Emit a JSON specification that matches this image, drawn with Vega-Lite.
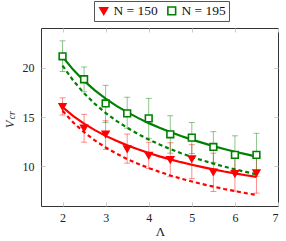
{
  "$schema": "https://vega.github.io/schema/vega-lite/v6.json",
  "width": 237,
  "height": 178,
  "autosize": {"type": "none"},
  "padding": {"left": 41, "top": 28, "right": 8, "bottom": 35},
  "config": {
    "view": {"stroke": "#333333", "strokeWidth": 1},
    "font": "Liberation Serif",
    "axis": {
      "domain": false,
      "grid": false,
      "tickColor": "#c8c8c8",
      "tickSize": -4,
      "tickWidth": 1,
      "labelFont": "Liberation Serif",
      "labelFontSize": 12,
      "labelColor": "#222222",
      "titleFont": "Liberation Serif",
      "titleColor": "#222222",
      "titleFontWeight": "normal"
    },
    "legend": {
      "labelFont": "Liberation Serif",
      "strokeColor": "#555555",
      "fillColor": "#ffffff"
    }
  },
  "datasets": {
    "pts": [
      {"x": 2, "y": 16.03, "lo": 15.2, "hi": 16.94, "series": "N = 150"},
      {"x": 2.5, "y": 13.86, "lo": 12.45, "hi": 15.27, "series": "N = 150"},
      {"x": 3, "y": 13.25, "lo": 11.72, "hi": 14.62, "series": "N = 150"},
      {"x": 3.5, "y": 11.77, "lo": 10.33, "hi": 13.28, "series": "N = 150"},
      {"x": 4, "y": 11.1, "lo": 9.8, "hi": 12.45, "series": "N = 150"},
      {"x": 4.5, "y": 10.67, "lo": 8.97, "hi": 12.4, "series": "N = 150"},
      {"x": 5, "y": 10.77, "lo": 8.77, "hi": 12.2, "series": "N = 150"},
      {"x": 5.5, "y": 9.43, "lo": 7.47, "hi": 11.34, "series": "N = 150"},
      {"x": 6, "y": 9.26, "lo": 7.5, "hi": 11.0, "series": "N = 150"},
      {"x": 6.5, "y": 9.33, "lo": 7.3, "hi": 11.36, "series": "N = 150"},
      {"x": 2, "y": 21.14, "lo": 19.6, "hi": 22.7, "series": "N = 195"},
      {"x": 2.5, "y": 18.82, "lo": 17.55, "hi": 20.06, "series": "N = 195"},
      {"x": 3, "y": 16.37, "lo": 14.45, "hi": 18.2, "series": "N = 195"},
      {"x": 3.5, "y": 15.37, "lo": 13.86, "hi": 17.0, "series": "N = 195"},
      {"x": 4, "y": 14.86, "lo": 12.85, "hi": 16.88, "series": "N = 195"},
      {"x": 4.5, "y": 13.25, "lo": 11.34, "hi": 15.13, "series": "N = 195"},
      {"x": 5, "y": 12.91, "lo": 11.3, "hi": 14.44, "series": "N = 195"},
      {"x": 5.5, "y": 11.97, "lo": 10.42, "hi": 13.52, "series": "N = 195"},
      {"x": 6, "y": 11.17, "lo": 9.3, "hi": 13.1, "series": "N = 195"},
      {"x": 6.5, "y": 11.17, "lo": 9.0, "hi": 13.35, "series": "N = 195"}
    ],
    "fits": [
      {"x": 2, "y": 21.10, "series": "N = 195", "kind": "fit"},
      {"x": 2.25, "y": 19.77, "series": "N = 195", "kind": "fit"},
      {"x": 2.5, "y": 18.65, "series": "N = 195", "kind": "fit"},
      {"x": 2.75, "y": 17.69, "series": "N = 195", "kind": "fit"},
      {"x": 3, "y": 16.86, "series": "N = 195", "kind": "fit"},
      {"x": 3.25, "y": 16.13, "series": "N = 195", "kind": "fit"},
      {"x": 3.5, "y": 15.49, "series": "N = 195", "kind": "fit"},
      {"x": 3.75, "y": 14.91, "series": "N = 195", "kind": "fit"},
      {"x": 4, "y": 14.38, "series": "N = 195", "kind": "fit"},
      {"x": 4.25, "y": 13.91, "series": "N = 195", "kind": "fit"},
      {"x": 4.5, "y": 13.48, "series": "N = 195", "kind": "fit"},
      {"x": 4.75, "y": 13.08, "series": "N = 195", "kind": "fit"},
      {"x": 5, "y": 12.71, "series": "N = 195", "kind": "fit"},
      {"x": 5.25, "y": 12.38, "series": "N = 195", "kind": "fit"},
      {"x": 5.5, "y": 12.06, "series": "N = 195", "kind": "fit"},
      {"x": 5.75, "y": 11.77, "series": "N = 195", "kind": "fit"},
      {"x": 6, "y": 11.49, "series": "N = 195", "kind": "fit"},
      {"x": 6.25, "y": 11.24, "series": "N = 195", "kind": "fit"},
      {"x": 6.5, "y": 11.00, "series": "N = 195", "kind": "fit"},
      {"x": 2, "y": 20.20, "series": "N = 195", "kind": "alt"},
      {"x": 2.25, "y": 18.67, "series": "N = 195", "kind": "alt"},
      {"x": 2.5, "y": 17.40, "series": "N = 195", "kind": "alt"},
      {"x": 2.75, "y": 16.33, "series": "N = 195", "kind": "alt"},
      {"x": 3, "y": 15.41, "series": "N = 195", "kind": "alt"},
      {"x": 3.25, "y": 14.61, "series": "N = 195", "kind": "alt"},
      {"x": 3.5, "y": 13.91, "series": "N = 195", "kind": "alt"},
      {"x": 3.75, "y": 13.28, "series": "N = 195", "kind": "alt"},
      {"x": 4, "y": 12.72, "series": "N = 195", "kind": "alt"},
      {"x": 4.25, "y": 12.22, "series": "N = 195", "kind": "alt"},
      {"x": 4.5, "y": 11.76, "series": "N = 195", "kind": "alt"},
      {"x": 4.75, "y": 11.34, "series": "N = 195", "kind": "alt"},
      {"x": 5, "y": 10.96, "series": "N = 195", "kind": "alt"},
      {"x": 5.25, "y": 10.61, "series": "N = 195", "kind": "alt"},
      {"x": 5.5, "y": 10.29, "series": "N = 195", "kind": "alt"},
      {"x": 5.75, "y": 9.99, "series": "N = 195", "kind": "alt"},
      {"x": 6, "y": 9.71, "series": "N = 195", "kind": "alt"},
      {"x": 6.25, "y": 9.45, "series": "N = 195", "kind": "alt"},
      {"x": 6.5, "y": 9.20, "series": "N = 195", "kind": "alt"},
      {"x": 2, "y": 16.00, "series": "N = 150", "kind": "fit"},
      {"x": 2.25, "y": 15.09, "series": "N = 150", "kind": "fit"},
      {"x": 2.5, "y": 14.33, "series": "N = 150", "kind": "fit"},
      {"x": 2.75, "y": 13.67, "series": "N = 150", "kind": "fit"},
      {"x": 3, "y": 13.09, "series": "N = 150", "kind": "fit"},
      {"x": 3.25, "y": 12.59, "series": "N = 150", "kind": "fit"},
      {"x": 3.5, "y": 12.13, "series": "N = 150", "kind": "fit"},
      {"x": 3.75, "y": 11.73, "series": "N = 150", "kind": "fit"},
      {"x": 4, "y": 11.36, "series": "N = 150", "kind": "fit"},
      {"x": 4.25, "y": 11.02, "series": "N = 150", "kind": "fit"},
      {"x": 4.5, "y": 10.72, "series": "N = 150", "kind": "fit"},
      {"x": 4.75, "y": 10.43, "series": "N = 150", "kind": "fit"},
      {"x": 5, "y": 10.17, "series": "N = 150", "kind": "fit"},
      {"x": 5.25, "y": 9.93, "series": "N = 150", "kind": "fit"},
      {"x": 5.5, "y": 9.71, "series": "N = 150", "kind": "fit"},
      {"x": 5.75, "y": 9.49, "series": "N = 150", "kind": "fit"},
      {"x": 6, "y": 9.30, "series": "N = 150", "kind": "fit"},
      {"x": 6.25, "y": 9.11, "series": "N = 150", "kind": "fit"},
      {"x": 6.5, "y": 8.94, "series": "N = 150", "kind": "fit"},
      {"x": 2, "y": 15.62, "series": "N = 150", "kind": "alt"},
      {"x": 2.25, "y": 14.44, "series": "N = 150", "kind": "alt"},
      {"x": 2.5, "y": 13.46, "series": "N = 150", "kind": "alt"},
      {"x": 2.75, "y": 12.63, "series": "N = 150", "kind": "alt"},
      {"x": 3, "y": 11.92, "series": "N = 150", "kind": "alt"},
      {"x": 3.25, "y": 11.30, "series": "N = 150", "kind": "alt"},
      {"x": 3.5, "y": 10.75, "series": "N = 150", "kind": "alt"},
      {"x": 3.75, "y": 10.27, "series": "N = 150", "kind": "alt"},
      {"x": 4, "y": 9.84, "series": "N = 150", "kind": "alt"},
      {"x": 4.25, "y": 9.45, "series": "N = 150", "kind": "alt"},
      {"x": 4.5, "y": 9.09, "series": "N = 150", "kind": "alt"},
      {"x": 4.75, "y": 8.77, "series": "N = 150", "kind": "alt"},
      {"x": 5, "y": 8.48, "series": "N = 150", "kind": "alt"},
      {"x": 5.25, "y": 8.21, "series": "N = 150", "kind": "alt"},
      {"x": 5.5, "y": 7.96, "series": "N = 150", "kind": "alt"},
      {"x": 5.75, "y": 7.72, "series": "N = 150", "kind": "alt"},
      {"x": 6, "y": 7.51, "series": "N = 150", "kind": "alt"},
      {"x": 6.25, "y": 7.30, "series": "N = 150", "kind": "alt"},
      {"x": 6.5, "y": 7.12, "series": "N = 150", "kind": "alt"}
    ]
  },
  "layer": [
    {
      "data": {"name": "pts"},
      "transform": [{"filter": "datum.series == 'N = 150'"}],
      "mark": {"type": "errorbar", "ticks": true, "size": 6, "thickness": 1, "color": "#ff0000", "opacity": 0.45},
      "encoding": {
        "x": {"field": "x", "type": "quantitative", "scale": {"domain": [1.5, 7], "nice": false, "zero": false},
              "axis": {"orient": "bottom", "values": [2, 3, 4, 5, 6, 7], "title": "Λ", "titleFontSize": 13, "titleX": 119, "titleY": 29, "titleBaseline": "alphabetic", "titleAlign": "center", "labelPadding": 10}},
        "y": {"field": "lo", "type": "quantitative", "scale": {"domain": [6, 24], "nice": false, "zero": false},
              "axis": {"orient": "left", "values": [10, 15, 20], "title": "V", "titleFontSize": 12.5, "titleFontStyle": "italic", "titleAngle": -90, "titleX": -28, "titleY": 96, "titleAlign": "center", "titleBaseline": "alphabetic", "labelPadding": 11}},
        "y2": {"field": "hi"}
      }
    },
    {
      "data": {"name": "pts"},
      "transform": [{"filter": "datum.series == 'N = 195'"}],
      "mark": {"type": "errorbar", "ticks": true, "size": 6, "thickness": 1, "color": "#008000", "opacity": 0.45},
      "encoding": {
        "x": {"field": "x", "type": "quantitative", "axis": null},
        "y": {"field": "lo", "type": "quantitative", "axis": null},
        "y2": {"field": "hi"}
      }
    },
    {
      "data": {"name": "fits"},
      "transform": [{"filter": "datum.kind == 'alt'"}],
      "mark": {"type": "line", "strokeWidth": 2.2, "strokeDash": [4, 3]},
      "encoding": {
        "x": {"field": "x", "type": "quantitative", "axis": {"orient": "top", "values": [2, 3, 4, 5, 6, 7], "labels": false, "title": null}},
        "y": {"field": "y", "type": "quantitative", "axis": {"orient": "right", "values": [10, 15, 20], "labels": false, "title": null}},
        "detail": {"field": "series", "type": "nominal"},
        "color": {"condition": {"test": "datum.series == 'N = 150'", "value": "#ff0000"}, "value": "#008000"}
      }
    },
    {
      "data": {"name": "fits"},
      "transform": [{"filter": "datum.kind == 'fit'"}],
      "mark": {"type": "line", "strokeWidth": 2.2},
      "encoding": {
        "x": {"field": "x", "type": "quantitative", "axis": null},
        "y": {"field": "y", "type": "quantitative", "axis": {"orient": "left", "labels": false, "ticks": false, "title": "cr", "titleFontSize": 9.5, "titleFontStyle": "italic", "titleAngle": -90, "titleX": -26.5, "titleY": 86.7, "titleAlign": "center", "titleBaseline": "alphabetic"}},
        "detail": {"field": "series", "type": "nominal"},
        "color": {"condition": {"test": "datum.series == 'N = 150'", "value": "#ff0000"}, "value": "#008000"}
      }
    },
    {
      "data": {"name": "pts"},
      "mark": {"type": "point", "strokeWidth": 1.6, "opacity": 1, "size": 45},
      "encoding": {
        "x": {"field": "x", "type": "quantitative", "axis": null},
        "y": {"field": "y", "type": "quantitative", "axis": null},
        "shape": {"field": "series", "type": "nominal", "scale": {"domain": ["N = 150", "N = 195"], "range": ["triangle-down", "square"]},
                  "legend": {"title": null, "orient": "none", "legendX": 53, "legendY": -27, "direction": "horizontal", "padding": 3, "strokeColor": "#555555", "fillColor": "#ffffff", "labelFontSize": 13.5, "labelColor": "#111111", "symbolSize": 60, "symbolStrokeWidth": 1.6, "labelOffset": 3, "columnPadding": 6,
                             "encode": {"symbols": {"update": {"fill": {"signal": "datum.value === 'N = 150' ? '#ff0000' : '#ffffff'"}, "stroke": {"signal": "datum.value === 'N = 150' ? '#ff0000' : '#008000'"}, "opacity": {"value": 1}}}}}},
        "stroke": {"field": "series", "type": "nominal", "scale": {"domain": ["N = 150", "N = 195"], "range": ["#ff0000", "#008000"]}, "legend": null},
        "fill": {"field": "series", "type": "nominal", "scale": {"domain": ["N = 150", "N = 195"], "range": ["#ff0000", "#ffffff"]}, "legend": null}
      }
    }
  ],
  "resolve": {"axis": {"x": "independent", "y": "independent"}}
}
